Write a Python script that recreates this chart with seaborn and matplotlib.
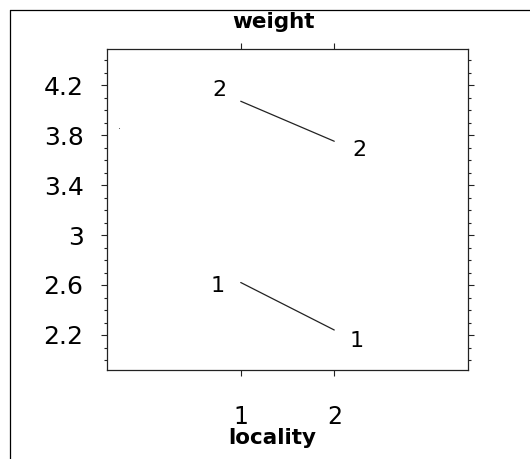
import matplotlib
matplotlib.use("Agg")
import matplotlib.pyplot as plt
import seaborn as sns
import pandas as pd
from matplotlib.lines import Line2D
from matplotlib.ticker import MultipleLocator, FixedLocator

# ---- data ----
locality = [1, 2]
group_labels = ["1", "2"]
weight_group1 = [2.62, 2.24]
weight_group2 = [4.07, 3.75]
stray_x = [-0.30]
stray_y = [3.855]
y_ticks = [2.2, 2.6, 3.0, 3.4, 3.8, 4.2]
y_tick_labels = ["2.2", "2.6", "3", "3.4", "3.8", "4.2"]
x_ticks = [1, 2]
x_tick_labels = ["1", "2"]
title_text = "weight"
xlabel_text = "locality"

df = pd.DataFrame({
    "locality": locality * 2,
    "weight": weight_group1 + weight_group2,
    "group": [group_labels[0]] * len(locality) + [group_labels[1]] * len(locality),
})

sns.set_theme(style="white")
plt.rcParams['font.family'] = ['DejaVu Sans']

W, H = 530, 459
fig = plt.figure(figsize=(W / 100, H / 100), dpi=100)
ax = fig.add_axes([107 / W, 89 / H, 361 / W, 321 / H])

ink = "#222222"
sns.lineplot(data=df, x="locality", y="weight", hue="group",
             palette=[ink, ink], linewidth=0.9, legend=False,
             estimator=None, ax=ax)
ax.scatter(stray_x, stray_y, s=0.6, color="#555555", linewidths=0)

# group labels next to the line ends
left_offsets = {"1": (-23, -3), "2": (-21, 11)}
right_offsets = {"1": (22, -11), "2": (25, -9)}
for g, vals in zip(group_labels, [weight_group1, weight_group2]):
    ax.annotate(g, (locality[0], vals[0]), xytext=left_offsets[g],
                textcoords="offset pixels", ha="center", va="center",
                fontsize=16, color="black")
    ax.annotate(g, (locality[-1], vals[-1]), xytext=right_offsets[g],
                textcoords="offset pixels", ha="center", va="center",
                fontsize=16, color="black")

ax.set_xlim(-0.43, 3.43)
ax.set_ylim(1.92, 4.488)
ax.set_xticks(x_ticks)
ax.set_xticklabels(x_tick_labels)
ax.set_yticks(y_ticks)
ax.set_yticklabels(y_tick_labels)
ax.yaxis.set_minor_locator(MultipleLocator(0.1))
ax.xaxis.set_minor_locator(FixedLocator([]))
ax.set_xlabel("")
ax.set_ylabel("")

ax.tick_params(axis="y", which="both", direction="out", left=True, right=True,
               labelleft=True, labelright=False, color=ink, width=0.8)
ax.tick_params(axis="y", which="major", length=4.4, pad=12.5, labelsize=18,
               labelcolor="black")
ax.tick_params(axis="y", which="minor", length=2.2)
ax.tick_params(axis="x", which="major", direction="out", bottom=True, top=True,
               labelbottom=True, labeltop=False, length=4.4, width=0.8,
               color=ink, pad=20.5, labelsize=17, labelcolor="black")
for s in ax.spines.values():
    s.set_visible(True)
    s.set_color(ink)
    s.set_linewidth(0.9)

fig.text(273.5 / W, 1 - 28.3 / H, title_text, ha="center", va="baseline",
         fontsize=15.5, fontweight="bold", color="black")
fig.text(272.5 / W, 1 - 444 / H, xlabel_text, ha="center", va="baseline",
         fontsize=15.5, fontweight="bold", color="black")

# outer frame (left and top edges visible)
fig.add_artist(Line2D([9.5 / W, 9.5 / W], [0, 1 - 9.5 / H], transform=fig.transFigure,
                      color="black", linewidth=0.9))
fig.add_artist(Line2D([9.5 / W, 1], [1 - 9.5 / H, 1 - 9.5 / H], transform=fig.transFigure,
                      color="black", linewidth=0.9))

fig.savefig("out.png", dpi=100, facecolor="white")
